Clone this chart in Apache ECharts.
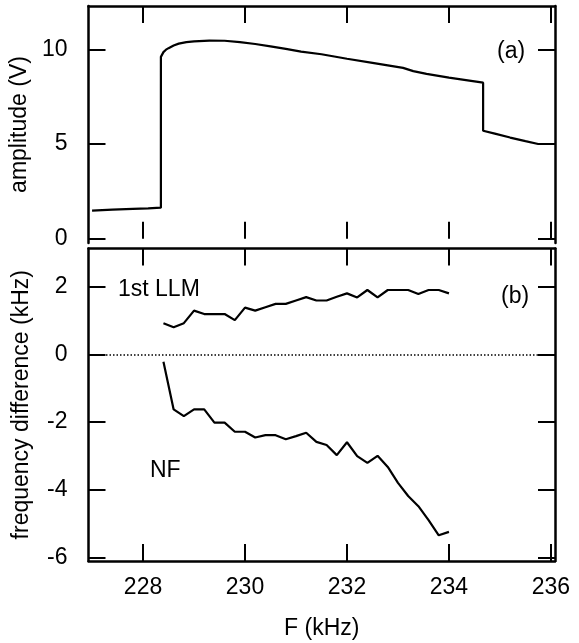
<!DOCTYPE html>
<html>
<head>
<meta charset="utf-8">
<script src="https://cdn.jsdelivr.net/npm/echarts@6/dist/echarts.min.js"></script>
<style>
html,body{margin:0;padding:0;background:#fff;}
#chart{width:579px;height:643px;}
</style>
</head>
<body>
<div id="chart"></div>
<script>
// ---- data ----
const ampFreq  = [227.0,227.4,227.8,228.1,228.35,228.35,228.40,228.45,228.50,228.60,228.70,228.85,229.0,229.3,229.6,229.9,230.2,230.5,230.8,231.1,231.5,232.0,232.5,232.8,233.1,233.3,233.56,234.0,234.4,234.67,234.67,234.9,235.2,235.5,235.75,236.08];
const ampValue = [1.48,1.53,1.57,1.60,1.64,9.60,9.85,9.98,10.06,10.20,10.30,10.38,10.42,10.46,10.45,10.38,10.28,10.15,10.02,9.88,9.74,9.50,9.28,9.15,9.02,8.85,8.70,8.50,8.35,8.24,5.70,5.55,5.34,5.15,5.00,5.00];

const diffFreq  = [228.4,228.6,228.8,229.0,229.2,229.4,229.6,229.8,230.0,230.2,230.4,230.6,230.8,231.0,231.2,231.4,231.6,231.8,232.0,232.2,232.4,232.6,232.8,233.0,233.2,233.4,233.6,233.8,234.0];
const llmValues = [0.92,0.80,0.92,1.29,1.19,1.19,1.19,1.01,1.38,1.29,1.39,1.49,1.49,1.59,1.69,1.59,1.59,1.70,1.80,1.68,1.90,1.68,1.90,1.90,1.90,1.78,1.90,1.90,1.80];
const nfValues  = [-0.22,-1.63,-1.83,-1.63,-1.63,-2.02,-2.02,-2.29,-2.29,-2.46,-2.39,-2.39,-2.51,-2.42,-2.32,-2.59,-2.68,-2.98,-2.60,-3.01,-3.21,-3.00,-3.33,-3.80,-4.19,-4.49,-4.90,-5.35,-5.25];

const xTicks    = [228,230,232,234,236];
const ampTicks  = [0,5,10];
const diffTicks = [-6,-4,-2,0,2];

// ---- chart ----
const FONT = '"Liberation Sans", Arial, sans-serif';
const FS = 23;
const xMin = 226.93, xMax = 236.08;
const lineW = 2.5;

function xAx(grid, pos, opts) {
  return Object.assign({
    type: 'value', gridIndex: grid, position: pos, min: xMin, max: xMax,
    axisLine: { show: true, onZero: false, lineStyle: { color: '#000', width: lineW } },
    axisTick: { show: true, inside: true, length: 17, customValues: xTicks, lineStyle: { color: '#000', width: 2 } },
    axisLabel: { show: false },
    splitLine: { show: false }
  }, opts || {});
}
function yAx(grid, pos, min, max, ticks, opts) {
  return Object.assign({
    type: 'value', gridIndex: grid, position: pos, min: min, max: max,
    axisLine: { show: true, onZero: false, lineStyle: { color: '#000', width: lineW } },
    axisTick: { show: true, inside: true, length: 17, customValues: ticks, lineStyle: { color: '#000', width: 2 } },
    axisLabel: { show: false },
    splitLine: { show: false }
  }, opts || {});
}

const ampMin = -0.227, ampMax = 12.286;
const diffMin = -6.11, diffMax = 3.127;

const option = {
  animation: false,
  backgroundColor: '#fff',
  grid: [
    { left: 88.5, right: 24, top: 6, height: 237 },
    { left: 88.5, right: 24, top: 248.5, height: 312.5 }
  ],
  xAxis: [
    xAx(0, 'bottom', { axisLine: { show: false } }),
    xAx(0, 'top'),
    xAx(1, 'bottom', {
      axisLabel: { show: true, customValues: xTicks, margin: 15, color: '#000', fontSize: FS, fontFamily: FONT },
      name: 'F (kHz)', nameLocation: 'middle', nameGap: 56,
      nameTextStyle: { color: '#000', fontSize: FS, fontFamily: FONT }
    }),
    xAx(1, 'top')
  ],
  yAxis: [
    yAx(0, 'left', ampMin, ampMax, ampTicks, {
      axisLabel: { show: true, customValues: ampTicks, margin: 21, color: '#000', fontSize: FS, fontFamily: FONT },
      name: 'amplitude (V)', nameLocation: 'middle', nameGap: 55,
      nameTextStyle: { color: '#000', fontSize: FS, fontFamily: FONT }
    }),
    yAx(0, 'right', ampMin, ampMax, ampTicks),
    yAx(1, 'left', diffMin, diffMax, diffTicks, {
      axisLabel: { show: true, customValues: diffTicks, margin: 21, color: '#000', fontSize: FS, fontFamily: FONT },
      name: 'frequency difference (kHz)', nameLocation: 'middle', nameGap: 55,
      nameTextStyle: { color: '#000', fontSize: FS, fontFamily: FONT }
    }),
    yAx(1, 'right', diffMin, diffMax, diffTicks)
  ],
  series: [
    {
      name: 'amplitude', type: 'line', xAxisIndex: 0, yAxisIndex: 0,
      data: ampFreq.map((f, i) => [f, ampValue[i]]),
      showSymbol: false, symbol: 'none',
      lineStyle: { color: '#000', width: 2.2 }
    },
    {
      name: '1st LLM', type: 'line', xAxisIndex: 2, yAxisIndex: 2,
      data: diffFreq.map((f, i) => [f, llmValues[i]]),
      showSymbol: false, symbol: 'none',
      lineStyle: { color: '#000', width: 2.2 },
      markLine: {
        silent: true, symbol: ['none', 'none'], label: { show: false },
        lineStyle: { color: '#000', width: 1.5, type: [1.5, 2] },
        data: [{ yAxis: 0 }]
      }
    },
    {
      name: 'NF', type: 'line', xAxisIndex: 2, yAxisIndex: 2,
      data: diffFreq.map((f, i) => [f, nfValues[i]]),
      showSymbol: false, symbol: 'none',
      lineStyle: { color: '#000', width: 2.2 }
    }
  ],
  graphic: [
    { type: 'text', x: 497, y: 52, style: { text: '(a)', fill: '#000', font: FS + 'px ' + FONT, verticalAlign: 'middle' } },
    { type: 'text', x: 501, y: 297, style: { text: '(b)', fill: '#000', font: FS + 'px ' + FONT, verticalAlign: 'middle' } },
    { type: 'text', x: 118, y: 290, style: { text: '1st LLM', fill: '#000', font: FS + 'px ' + FONT, verticalAlign: 'middle' } },
    { type: 'text', x: 150, y: 471, style: { text: 'NF', fill: '#000', font: FS + 'px ' + FONT, verticalAlign: 'middle' } }
  ]
};

const chart = echarts.init(document.getElementById('chart'), null, { renderer: 'canvas' });
chart.setOption(option);
</script>
</body>
</html>
